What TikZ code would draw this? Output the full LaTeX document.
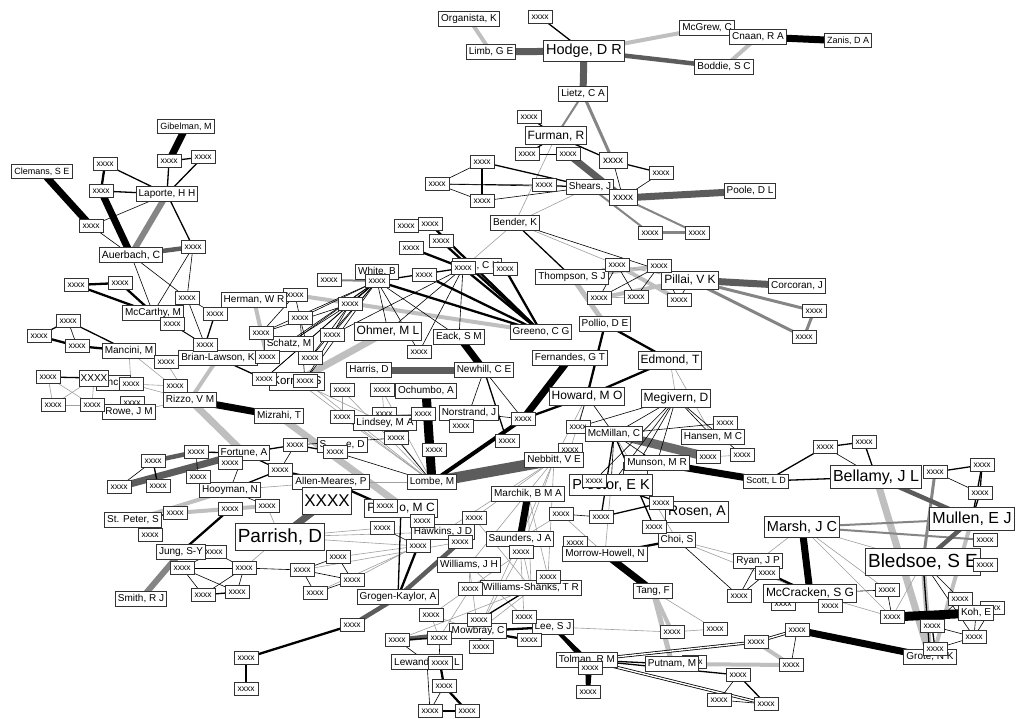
\documentclass[tikz,border=0pt]{standalone}
\usepackage{fontspec}
\setmainfont{Liberation Sans}
\usetikzlibrary{backgrounds}
\definecolor{lgc}{gray}{0.75}
\definecolor{mgc}{gray}{0.52}
\definecolor{dgc}{gray}{0.36}
\begin{document}
\begin{tikzpicture}[x=1pt,y=-1pt,
  box/.style={draw=black!80,fill=white,line width=1pt,inner xsep=2.5pt,inner ysep=0pt},
  nT/.style={box,font=\fontsize{9}{9}\selectfont,minimum height=14pt},
  nS/.style={box,font=\fontsize{10}{10}\selectfont,minimum height=15pt},
  nM/.style={box,font=\fontsize{12}{12}\selectfont,minimum height=18pt},
  nL/.style={box,font=\fontsize{14.5}{14.5}\selectfont,minimum height=21pt},
  nLL/.style={box,font=\fontsize{16}{16}\selectfont,minimum height=23pt},
  nXL/.style={box,font=\fontsize{19}{19}\selectfont,minimum height=27pt},
  xS/.style={box,font=\fontsize{8.5}{8.5}\selectfont,minimum width=24pt,minimum height=13pt,inner xsep=1pt},
  xM/.style={box,font=\fontsize{10}{10}\selectfont,minimum width=28pt,minimum height=16pt,inner xsep=1pt},
  xXL/.style={box,font=\fontsize{17}{17}\selectfont,minimum width=46pt,minimum height=27pt,inner xsep=2pt},
  eT/.style={draw=black,line width=0.6pt},
  eN/.style={draw=black,line width=1.3pt},
  eB/.style={draw=black,line width=2.3pt},
  eK/.style={draw=black,line width=4pt},
  eKK/.style={draw=black,line width=7pt},
  eKKK/.style={draw=black,line width=9pt},
  eD/.style={draw=black,line width=0.8pt,double=white,double distance=1.4pt},
  gT/.style={draw=gray!75,line width=0.6pt},
  gN/.style={draw=mgc,line width=2pt},
  gK/.style={draw=mgc,line width=3pt},
  lgN/.style={draw=lgc,line width=4pt},
  lgK/.style={draw=lgc,line width=7pt},
  dgN/.style={draw=dgc,line width=4.5pt},
  dgK/.style={draw=dgc,line width=7pt}
]
\useasboundingbox (0,0) rectangle (1016,719);

% ---- boxes that lie partly underneath other boxes ----
\foreach \n/\x/\y in {xc22/132/403, xg6/570/450, xg5/635/469, xf12/783/604,
  xf9/694/662, xd16/214/552, xf17/992/608, xg1/578/427, xg12/575/543,
  xb23/384/414, xb10/295/295}
  \node[xS] (\n) at (\x,\y) {xxxx};

\node[nS] (white) at (377,272) {White, B};
\node[nS] (chbox) at (477,266) {\hspace{22pt}, C H};
\node[nM,font=\fontsize{11.5}{11.5}\selectfont] (korr) at (297,381) {Korr, W S};
\node[nM] (pxo) at (401,508) {P\hspace{24pt}o, M C};
\node[nS] (spencer) at (342,445) {S\hspace{20pt}e, D};
\node[nS] (lewand) at (427,662) {Lewand\hspace{25pt}L};
\node[nS] (tolman) at (587,660) {Tolman, R M};
\node[nS] (fortune) at (244,453) {Fortune, A};
\node[nL] (proctor) at (611,485) {Proctor, E K};
\node[nXL] (bledsoe) at (923,562) {Bledsoe, S E};
\node[nS] (grote) at (930,657) {Grote, N K};
\node[nS,minimum width=34pt] (ncbox) at (113,383) {nc};
\node[nS] (hawkins) at (443,532) {Hawkins, J D};
\node[nS] (mccarthy) at (153,313) {McCarthy, M};
\node[nS] (brianlawson) at (218,358) {Brian-Lawson, K};
\node[nS] (mowbray) at (478,631) {Mowbray, C};
\node[nS] (saunders) at (520,539) {Saunders, J A};

% ---- named boxes ----
\node[nS] (organista) at (469,19) {Organista, K};
\node[nS] (limb) at (491,52) {Limb, G E};
\node[nL] (hodge) at (584,51) {Hodge, D R};
\node[nS] (mcgrew) at (707,28) {McGrew, C};
\node[nS] (cnaan) at (758,37) {Cnaan, R A};
\node[nT] (zanis) at (848,41) {Zanis, D A};
\node[nS] (boddie) at (724,67) {Boddie, S C};
\node[nS] (lietz) at (583,94) {Lietz, C A};
\node[nM] (furman) at (556,136) {Furman, R};
\node[nS] (shears) at (590,187) {Shears, J};
\node[nS] (poole) at (750,191) {Poole, D L};
\node[nS] (bender) at (515,223) {Bender, K};
\node[nS] (thompson) at (572,277) {Thompson, S J};
\node[nM] (pillai) at (690,280) {Pillai, V K};
\node[nS] (corcoran) at (797,286) {Corcoran, J};
\node[nS] (pollio) at (605,324) {Pollio, D E};
\node[nT] (gibelman) at (186,127) {Gibelman, M};
\node[nT] (clemans) at (42,172) {Clemans, S E};
\node[nS] (laporte) at (167,194) {Laporte, H H};
\node[nS,font=\fontsize{10.5}{10.5}\selectfont] (auerbach) at (131,255) {Auerbach, C};
\node[nS] (mancini) at (129,351) {Mancini, M};
\node[nS] (rowe) at (129,412) {Rowe, J M};
\node[nS] (rizzo) at (190,400) {Rizzo, V M};
\node[nS] (mizrahi) at (279,416) {Mizrahi, T};
\node[nS] (herman) at (254,300) {Herman, W R};
\node[nM] (ohmer) at (388,331) {Ohmer, M L};
\node[nS] (eack) at (459,337) {Eack, S M};
\node[nS] (greeno) at (541,332) {Greeno, C G};
\node[nS] (schatz) at (289,344) {Schatz, M};
\node[nS] (harris) at (369,370) {Harris, D};
\node[nS] (newhill) at (484,370) {Newhill, C E};
\node[nS] (ochumbo) at (426,391) {Ochumbo, A};
\node[nS] (norstrand) at (469,413) {Norstrand, J};
\node[nS] (lindsey) at (385,423) {Lindsey, M A};
\node[nS] (fernandes) at (570,358) {Fernandes, G T};
\node[nM] (edmond) at (670,360) {Edmond, T};
\node[nM] (howard) at (587,396) {Howard, M O};
\node[nM] (megivern) at (676,398) {Megivern, D};
\node[nS] (mcmillan) at (614,434) {McMillan, C};
\node[nS] (hansen) at (713,437) {Hansen, M C};
\node[nS] (munson) at (657,463) {Munson, M R};
\node[nS] (nebbitt) at (554,460) {Nebbitt, V E};
\node[nT] (scott) at (766,481) {Scott, L D};
\node[nL,font=\fontsize{14}{14}\selectfont] (rosen) at (697,512) {Rosen, A};
\node[nS] (choi) at (677,540) {Choi, S};
\node[nS] (morrowhowell) at (605,554) {Morrow-Howell, N};
\node[nS] (marchik) at (528,494) {Marchik, B M A};
\node[nS] (williamsshanks) at (531,588) {Williams-Shanks, T R};
\node[nS] (williamsjh) at (469,565) {Williams, J H};
\node[nS] (grogen) at (398,597) {Grogen-Kaylor, A};
\node[nS] (allenmeares) at (331,482) {Allen-Meares, P};
\node[nS] (lombe) at (432,482) {Lombe, M};
\node[nS] (hooyman) at (230,490) {Hooyman, N};
\node[nS] (stpeter) at (133,520) {St. Peter, S};
\node[nXL] (parrish) at (280,537) {Parrish, D};
\node[nS] (jung) at (181,552) {Jung, S-Y};
\node[nS] (smith) at (141,599) {Smith, R J};
\node[nS] (lee) at (553,627) {Lee, S J};
\node[nS] (putnam) at (672,664) {Putnam, M};
\node[nS] (tang) at (653,591) {Tang, F};
\node[nS] (ryan) at (758,561) {Ryan, J P};
\node[nM] (mccracken) at (810,593) {McCracken, S G};
\node[nS] (koh) at (976,613) {Koh, E};
\node[nL] (marsh) at (802,527) {Marsh, J C};
\node[nLL] (bellamy) at (876,477) {Bellamy, J L};
\node[nLL] (mullen) at (972,519) {Mullen, E J};

% ---- unnamed boxes ----
\foreach \n/\x/\y in {xa1/540/17, xa2/529/117, xa3/527/154, xa4/568/154, xa6/661/173,
  xa7/482/162, xa8/437/184, xa9/482/201, xa10/544/185, xa12/650/233, xa13/697/233,
  xa14/617/265, xa15/659/266, xa16/599/298, xa17/636/297, xa18/679/300, xa19/814/311,
  xa20/804/337,
  xb1/406/226, xb2/430/224, xb3/441/241, xb4/411/248, xb5/424/275, xb6/377/281,
  xb7/463/268, xb8/505/269, xb9/329/280, xb11/350/304, xb12/300/318, xb13/261/333,
  xb14/332/335, xb15/419/352, xb16/267/357, xb17/310/358, xb18/264/379, xb19/305/381,
  xb20/342/390, xb21/382/390, xb22/342/417, xb24/423/414, xb25/461/426, xb26/523/419,
  xb27/507/441,
  xc1/169/161, xc2/203/157, xc3/105/164, xc4/101/191, xc5/91/226, xc6/193/247,
  xc7/76/285, xc8/120/283, xc9/187/298, xc10/215/314, xc11/172/324, xc12/68/321,
  xc13/39/336, xc14/77/346, xc15/166/362, xc16/205/345, xc17/48/377, xc19/131/384,
  xc20/53/405, xc21/92/405, xc23/175/386,
  xd1/295/445, xd2/335/452, xd3/396/438, xd4/434/450, xd5/196/452, xd6/153/461,
  xd7/230/463, xd8/280/470, xd9/119/487, xd10/158/486, xd11/198/477, xd12/267/506,
  xd13/230/509, xd14/175/513, xd15/150/535, xd17/182/568, xd18/244/568, xd19/203/595,
  xd20/237/592, xd21/302/570, xd22/338/557, xd23/352/580, xd24/315/593, xd26/385/506,
  xd27/382/528, xd28/422/521, xd29/418/546, xd30/460/542, xd31/474/518, xd32/521/552,
  xd33/548/577, xd34/470/589, xd35/561/514, xd36/352/625, xd37/246/658, xd38/246/689,
  xe1/431/615, xe2/479/620, xe3/524/617, xe4/529/640, xe5/481/647, xe6/439/638,
  xe7/397/640, xe8/440/663, xe9/444/686, xe10/430/711, xe11/467/711, xe12/590/668,
  xe13/588/692,
  xf1/672/632, xf2/715/629, xf3/756/642, xf4/797/630, xf5/791/665, xf6/738/675,
  xf7/719/700, xf8/766/704, xf10/767/573, xf11/739/596, xf13/830/606, xf14/887/590,
  xf15/892/617, xf16/960/599, xf18/932/626, xf19/974/637, xf20/935/649, xf21/985/565,
  xf22/985/540, xf23/935/472, xf24/982/465, xf25/980/493, xf26/825/447, xf27/864/442,
  xg2/725/423, xg3/708/457, xg4/742/455, xg7/594/481, xg8/661/503, xg10/601/517,
  xg11/654/527}
  \node[xS] (\n) at (\x,\y) {xxxx};
\node[xM] (xa5) at (613,161) {xxxx};
\node[xM] (xa11) at (623,198) {xxxx};
\node[xM] (xc18) at (94,378) {XXXX};
\node[xXL] (xd25) at (327,501) {XXXX};

% ---- connectors, drawn beneath the boxes ----
\begin{pgfonlayer}{background}
\fill[white] (0,0) rectangle (1016,719);
% light grey ties
\foreach \a/\b in {organista/limb, hodge/mcgrew, mcgrew/cnaan, cnaan/boddie,
  thompson/xa15, xa14/xa18, pillai/xa16, herman/xb16, xb10/greeno, brianlawson/rizzo,
  stpeter/hooyman, xd14/xd12, tang/xf1, putnam/xf5, xf3/xf5, mullen/xf20}
  \draw[lgN] (\a.center) -- (\b.center);
\foreach \a/\b in {ohmer/korr, rizzo/fortune, mizrahi/xd28, bellamy/grote}
  \draw[lgK] (\a.center) -- (\b.center);
\foreach \a/\b in {thompson/pollio, tang/putnam, bledsoe/grote}
  \draw[lgc,line width=5pt] (\a.center) -- (\b.center);
% thin grey ties
\foreach \a/\b in {furman/bender, bender/shears, bender/xb7, bender/xa14,
  edmond/megivern, edmond/hansen, mancini/xc15, mancini/rizzo, mancini/xc19,
  xc15/rizzo, xc17/xc20, xc17/xc21, xc18/xc20, xc18/xc21, xc20/xc21, xc19/xc23,
  xc23/rizzo, xc19/rizzo, rowe/rizzo, xc21/rowe, korr/lindsey, korr/lombe, xb22/lombe,
  xb19/lombe, xb20/lombe, xb21/lombe, xb20/xb22, xb21/xb23, xg3/xg4, howard/nebbitt,
  howard/xg6, nebbitt/saunders, nebbitt/xd32, nebbitt/williamsjh, nebbitt/xd33,
  nebbitt/xd31, nebbitt/hawkins, marchik/xd33, marchik/williamsshanks,
  saunders/williamsshanks, saunders/mowbray, xd33/xe2, xd32/xe1, williamsjh/xe3,
  williamsjh/mowbray, xd34/xe6, williamsshanks/xe7, xd31/williamsshanks,
  xd35/morrowhowell, xd35/saunders, proctor/morrowhowell, parrish/hawkins,
  parrish/xd27, parrish/xd29, xd22/xd29, xd21/xd30, xd23/hawkins, xd24/xd29,
  choi/ryan, choi/mccracken, marsh/ryan, marsh/xf14, marsh/xf15, marsh/bledsoe,
  mccracken/xf15, xf15/bledsoe, tang/xf2, xf1/xf2, lee/xf1, xa14/pillai,
  thompson/xa14, xa16/xa17, allenmeares/lombe, hooyman/allenmeares, xd12/parrish,
  xd18/parrish, xb22/xb24, lindsey/lombe, xd4/lombe, williamsjh/xd34, saunders/xe3,
  xd32/mowbray, xe1/xe6, xe1/mowbray, xe5/mowbray, xd33/mowbray, mcmillan/choi}
  \draw[gT] (\a.center) -- (\b.center);
% mid grey ties
\foreach \a/\b in {lietz/furman, shears/xa12, xa11/xa13, marsh/mullen, marsh/xf22, xb9/xb6}
  \draw[gN] (\a.center) -- (\b.center);
\foreach \a/\b in {lietz/xa5, xa12/xa13, xf23/bledsoe, pillai/xa19, pillai/xa20, xa19/xa20}
  \draw[gK] (\a.center) -- (\b.center);
\draw[mgc,line width=6pt] (smith.center) -- (jung.center);
\draw[mgc,line width=6pt] (laporte.center) -- (auerbach.center);
% dark grey ties
\foreach \a/\b in {hodge/boddie, auerbach/xc6, xd6/xd5, mullen/bledsoe, grogen/xd36,
  grogen/xd30, bellamy/mullen, xe7/mowbray}
  \draw[dgN] (\a.center) -- (\b.center);
\foreach \a/\b in {limb/hodge, hodge/lietz, xa4/xa11, xa11/poole, pillai/corcoran,
  harris/newhill, xd25/parrish, xd9/fortune}
  \draw[dgK] (\a.center) -- (\b.center);
\draw[dgc,line width=11pt] (nebbitt.center) -- (lombe.center);
\draw[mgc!80!black,line width=9pt] (mcmillan.center) -- (xg3.center);
% black ties
\foreach \a/\b in {auerbach/mccarthy, auerbach/xc9, xc6/mccarthy, xc6/xc9, laporte/xc5,
  xc5/auerbach, mccarthy/xc11, xc9/xc10, xc9/xc16, xc11/xc16, mccarthy/xc16,
  xc12/xc14, xc18/xc19, xa3/xa4, xa6/xa11, xa5/xa11, xa8/xa7, xa8/xa9, xa8/xa10,
  xa8/shears, xa9/shears, xa10/shears, bender/pillai, xa14/xa16, xa14/xa17,
  xa15/xa16, xa15/xa17, xa15/xa18, pillai/xa18, xb6/xb12, xb6/xb13, xb6/xb16,
  xb6/xb17, xb6/schatz, xb6/xb18, xb6/xb19, xb6/ohmer, xb6/xb14, xb6/xb15, xb6/eack,
  xb11/xb16, xb11/xb17, xb11/xb13, xb11/xb18, xb11/xb19, xb12/xb17, xb12/xb19,
  xb13/xb17, xb10/xb13, xb10/xb12, xb7/xb15, xb7/xb14, xb7/eack, xb7/ohmer,
  norstrand/xb26, newhill/norstrand, newhill/xb26, xd6/xd9, xd5/xd11,
  fortune/hooyman, xd8/xd1, hooyman/xd12, xd17/xd16, xd17/xd19, xd17/xd20,
  xd18/xd19, xd18/xd20, xd18/xd21, xd17/xd18, xd16/xd18, xd21/xd22, xd21/xd23,
  xd23/xd24, xd21/xd24, xd22/xd23, megivern/mcmillan, megivern/munson,
  megivern/xg1, megivern/xg5, megivern/proctor, megivern/xg7, megivern/hansen,
  megivern/xg4, howard/mcmillan, howard/xg1, xg2/mcmillan, choi/xf11, xf11/xf10,
  xf11/ryan, mccracken/xf14, xf14/xf15, xf16/koh, koh/xf19, xf17/xf19, xf18/xf19,
  xf20/xf19, bledsoe/xf16, bledsoe/xf19, xf16/xf18, xf23/xf25, xf4/xf5, xf6/xf7,
  xf7/xf8, xe6/xe8, xe7/lewand, xe9/xe10, lewand/xe10, xe2/xe5, xe2/mowbray,
  xe6/mowbray, xd28/xd29, xd27/xd29, xf26/bellamy, mcmillan/proctor,
  mcmillan/munson, xd3/lombe, xd1/xd3, xd2/lombe, xd35/xg10}
  \draw[eT] (\a.center) -- (\b.center);
\foreach \a/\b in {xa1/hodge, xa2/furman, furman/xa3, furman/xa5, xa5/xa6, xa7/shears,
  xc1/laporte, xc2/laporte, xc1/xc2, xc3/laporte, xc4/laporte, laporte/xc6,
  xc12/xc13, xc12/mancini, xc17/xc18, xc10/xc16, xc16/brianlawson,
  brianlawson/xb16, brianlawson/xb18, bender/thompson, xb6/xb11, xb6/xb7,
  fortune/xd5, xd6/xd10, fortune/xd1, xd1/xd2, fortune/xd8, xd8/hooyman,
  xd8/allenmeares, stpeter/xd14, xd19/xd20, newhill/xb27, xg10/xg8, mcmillan/xg10,
  mcmillan/xg11, xg11/choi, proctor/xg8, scott/bellamy, scott/xf26, xf26/xf27,
  xf27/bellamy, xf24/xf25, xf24/mullen, xf25/mullen, xf23/xf24, bledsoe/grote,
  xf18/xf20, tolman/putnam, tolman/xf6, xf6/xf8, xe3/lee, xe4/lee, xe6/xe7,
  xe10/xe11, williamsshanks/xe2, pxo/grogen, xd37/xd38}
  \draw[eN] (\a.center) -- (\b.center);
\foreach \a/\b in {xc3/xc4, xc7/xc8, xc7/mccarthy, xc8/mccarthy, xc13/xc14,
  xc14/mancini, xa7/xa9, xb5/greeno, xb6/greeno, xb7/greeno, xb8/greeno,
  xb2/greeno, xb3/greeno, xb4/xb7, pollio/howard, pollio/edmond, edmond/howard,
  howard/xb26, xd13/jung, allenmeares/xd26, xd29/grogen, lee/xe12,
  choi/morrowhowell, xe8/xe9, xe9/xe11, lee/mowbray, xe4/mowbray, xf10/mccracken,
  xd36/xd37}
  \draw[eB] (\a.center) -- (\b.center);
\foreach \a/\b in {xe12/xe13, tolman/xe13, lee/tolman, xb26/lombe}
  \draw[eK] (\a.center) -- (\b.center);
\foreach \a/\b in {cnaan/zanis, gibelman/xc1, clemans/xc5, xc4/auerbach, rizzo/mizrahi,
  eack/newhill, fernandes/xb26, munson/scott, marsh/mccracken, xf4/grote,
  tang/morrowhowell, marchik/saunders}
  \draw[eKK] (\a.center) -- (\b.center);
\foreach \a/\b in {ochumbo/lombe, xf15/koh}
  \draw[eKKK] (\a.center) -- (\b.center);
\foreach \a/\b in {tolman/xf3, tolman/xf8, xf3/xf4}
  \draw[eD] (\a.center) -- (\b.center);
\end{pgfonlayer}
\end{tikzpicture}
\end{document}
